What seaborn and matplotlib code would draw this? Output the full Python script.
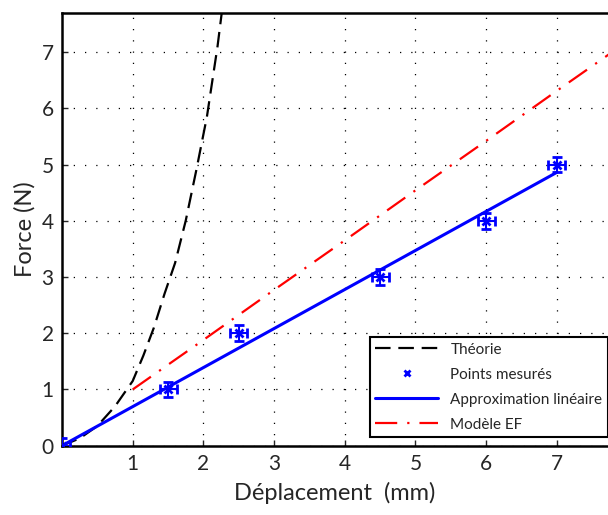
import numpy as np
import pandas as pd
import matplotlib
matplotlib.use('Agg')
import matplotlib.pyplot as plt
from matplotlib.lines import Line2D
import seaborn as sns

# Data
theo_x = [0, 0.25, 0.5, 0.75, 1.0, 1.15, 1.3, 1.45, 1.6, 1.75, 1.9, 2.05, 2.2, 2.27]
theo_y = [0, 0.13, 0.35, 0.7, 1.15, 1.6, 2.1, 2.7, 3.25, 4.0, 4.9, 5.85, 7.1, 7.8]

mes_x = [0, 1.5, 2.5, 4.5, 6.0, 7.0]
mes_y = [0, 1.0, 2.0, 3.0, 4.0, 5.0]
mes_xerr = [0.12, 0.12, 0.12, 0.12, 0.12, 0.12]
mes_yerr = [0.14, 0.14, 0.14, 0.14, 0.14, 0.14]

lin_x = [0, 7.0]
lin_y = [0, 4.86]

ef_x = [1, 2, 3, 4, 5, 6, 7, 8]
ef_y = [1.0, 1.88, 2.77, 3.65, 4.54, 5.42, 6.31, 7.19]

sns.set_style('ticks')
plt.rcParams['font.family'] = ['Lato', 'DejaVu Sans']

fig = plt.figure(figsize=(6.08, 5.15), dpi=100)
ax = fig.add_axes([0.102, 0.1346, 0.8975, 0.8408])

theo_dash = (0, (7, 3.5))
ef_dash = (0, (10, 4.5, 1, 4.5))

sns.lineplot(x=theo_x, y=theo_y, ax=ax, color='black', lw=1.6, sort=False)
ax.lines[-1].set_linestyle(theo_dash)
ax.errorbar(mes_x, mes_y, xerr=mes_xerr, yerr=mes_yerr, fmt='x', color='blue',
            ms=6, mew=2, elinewidth=1.5, capsize=3.5, capthick=1.5, zorder=5)
sns.lineplot(x=lin_x, y=lin_y, ax=ax, color='blue', lw=2.2)
sns.lineplot(x=ef_x, y=ef_y, ax=ax, color='red', lw=1.6)
ax.lines[-1].set_linestyle(ef_dash)

ax.set_xlim(0, 7.72)
ax.set_ylim(0, 7.7)
ax.set_xticks([1, 2, 3, 4, 5, 6, 7])
ax.set_yticks([0, 1, 2, 3, 4, 5, 6, 7])
ax.grid(True, color='black', lw=0.9, linestyle=(0, (1, 8)))
ax.tick_params(direction='in', length=4, width=1, labelsize=15, pad=6)

for s in ['left', 'bottom', 'top']:
    ax.spines[s].set_linewidth(1.8)
    ax.spines[s].set_color('black')
ax.spines['right'].set_visible(False)

ax.set_xlabel('Déplacement  (mm)', fontsize=17, labelpad=6)
ax.set_ylabel('Force (N)', fontsize=17, labelpad=4)

handles = [
    Line2D([], [], color='black', lw=1.6, linestyle=theo_dash),
    Line2D([], [], color='blue', lw=0, marker='x', ms=5, mew=2),
    Line2D([], [], color='blue', lw=2.2),
    Line2D([], [], color='red', lw=1.6, linestyle=ef_dash),
]
labels = ['Théorie', 'Points mesurés', 'Approximation linéaire', 'Modèle EF']
leg = ax.legend(handles, labels, loc='lower right', bbox_to_anchor=(1.0, 0.02),
                borderaxespad=0, fontsize=11, handlelength=4.1,
                labelspacing=0.72, borderpad=0.35, fancybox=False,
                framealpha=1, edgecolor='black')
leg.get_frame().set_linewidth(1.5)

fig.savefig('out.png', dpi=100)
